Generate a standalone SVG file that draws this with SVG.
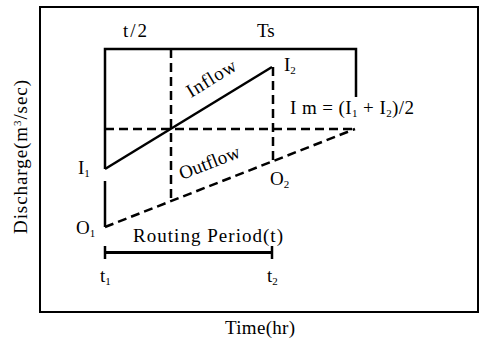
<svg xmlns="http://www.w3.org/2000/svg" width="480" height="342" viewBox="0 0 480 342">
<style>
text{font-family:"Liberation Serif","Times New Roman",serif;font-size:19px;fill:#000}
.sub{font-size:11px}
.solid{fill:none;stroke:#000;stroke-width:2.5}
.dash{fill:none;stroke:#000;stroke-width:2.5;stroke-dasharray:9,5}
</style>
<rect width="480" height="342" fill="#fff"/>
<g id="frame"><rect x="40" y="7" width="438" height="305" fill="none" stroke="#000" stroke-width="2"/></g>
<g id="connectors">
<path class="solid" d="M105,169 V49 H356 V97"/>
<path class="solid" d="M105,181 V227"/>
<path class="solid" d="M105,169 L272,67"/>
<path class="dash" d="M171,49 V201"/>
<path class="dash" d="M273,67 V161"/>
<path class="dash" d="M105,129 H355"/>
<path class="dash" d="M105,227 L355,129"/>
<path fill="none" stroke="#000" stroke-width="3" d="M105,252.5 H272"/>
<path class="solid" d="M105,246 V259 M272,246 V259"/>
</g>
<g id="label-t2half"><text x="123" y="37" textLength="24">t/2</text></g>
<g id="label-Ts"><text x="257" y="37">Ts</text></g>
<g id="label-I2"><text x="284" y="71">I<tspan class="sub" dy="3">2</tspan></text></g>
<g id="label-Im"><text x="290" y="114" textLength="124">I m = (I<tspan class="sub" dy="3">1</tspan><tspan dy="-3"> + I</tspan><tspan class="sub" dy="3">2</tspan><tspan dy="-3">)/2</tspan></text></g>
<g id="label-Inflow"><text transform="translate(191,98) rotate(-31.5)" textLength="55">Inflow</text></g>
<g id="label-Outflow"><text transform="translate(182,180) rotate(-21.4)" textLength="64">Outflow</text></g>
<g id="label-I1"><text x="78" y="174">I<tspan class="sub" dy="3">1</tspan></text></g>
<g id="label-O1"><text x="76" y="234">O<tspan class="sub" dy="3">1</tspan></text></g>
<g id="label-O2"><text x="270" y="185">O<tspan class="sub" dy="3">2</tspan></text></g>
<g id="label-routing"><text x="133" y="242" textLength="150">Routing Period(t)</text></g>
<g id="label-t1"><text x="100" y="282">t<tspan class="sub" dy="3">1</tspan></text></g>
<g id="label-t2"><text x="267" y="282">t<tspan class="sub" dy="3">2</tspan></text></g>
<g id="label-discharge"><text transform="translate(27,157) rotate(-90)" text-anchor="middle" textLength="154">Discharge(m<tspan class="sub" dy="-6">3</tspan><tspan dy="6">/sec)</tspan></text></g>
<g id="label-time"><text x="225" y="334" textLength="70">Time(hr)</text></g>
</svg>
